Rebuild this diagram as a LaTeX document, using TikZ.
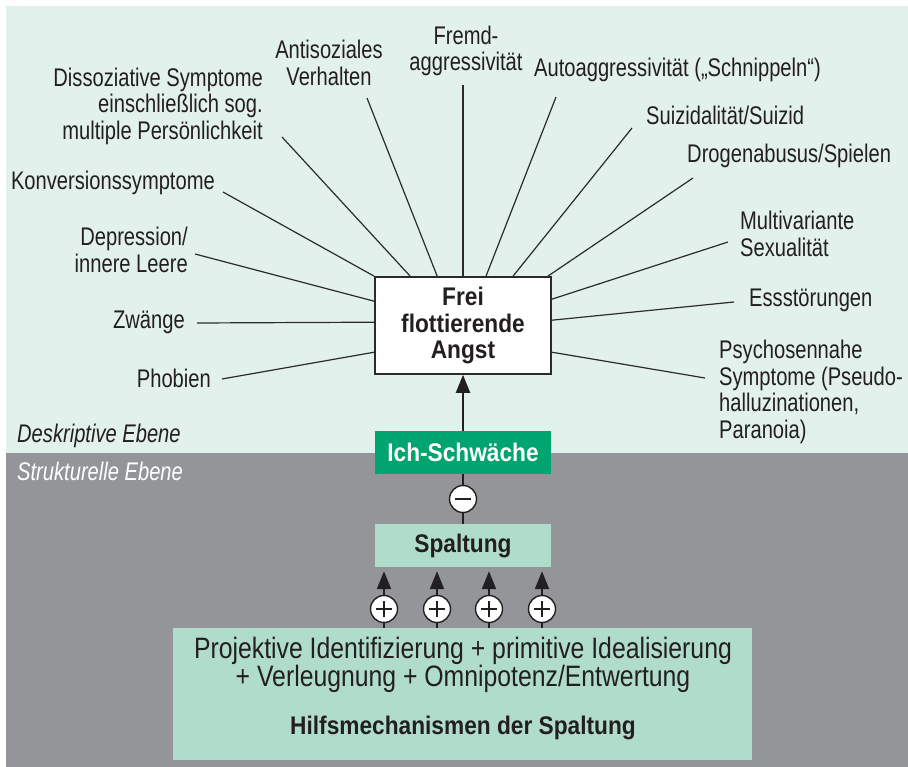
\documentclass[tikz,border=0pt]{standalone}
\usepackage{fontspec}
\setmainfont{Liberation Sans}[FakeStretch=0.79, BoldFeatures={FakeStretch=0.89}, ItalicFeatures={FakeStretch=0.79}]
\newfontfamily\widefont{Liberation Sans}[FakeStretch=0.84]
\usetikzlibrary{arrows.meta,calc}
\definecolor{mintbg}{HTML}{E2F1EC}
\definecolor{graybg}{HTML}{939598}
\definecolor{ichgreen}{HTML}{00A46E}
\definecolor{boxmint}{HTML}{B0DCCB}
\definecolor{ink}{HTML}{231F20}
\definecolor{linecol}{HTML}{2B2B2B}
\tikzset{
  lbl/.style={inner sep=0pt, text=ink, font=\fontsize{25.5}{26.5}\selectfont},
  ray/.style={draw=linecol, line width=1.2pt},
  mainbox/.style={draw=linecol, line width=1.6pt, fill=white, minimum width=176pt, minimum height=97pt, inner sep=0pt, align=center, text=ink, font=\fontsize{25.5}{26.5}\selectfont\bfseries},
  midbox/.style={minimum width=176pt, minimum height=43pt, inner sep=0pt, font=\fontsize{25.5}{26.5}\selectfont\bfseries},
  sign/.style={circle, draw=ink, line width=1.4pt, fill=white, minimum size=27pt, inner sep=0pt},
  minussign/.style={sign, path picture={\draw[ink, line width=2pt] ([xshift=-8pt]path picture bounding box.center) -- ([xshift=8pt]path picture bounding box.center);}},
  plussign/.style={sign, path picture={\draw[ink, line width=2pt] ([xshift=-8pt]path picture bounding box.center) -- ([xshift=8pt]path picture bounding box.center) ([yshift=-8pt]path picture bounding box.center) -- ([yshift=8pt]path picture bounding box.center);}},
  uparrow/.style={draw=ink, line width=2pt, -{Triangle[length=18pt,width=14pt]}},
}
\begin{document}
\begin{tikzpicture}[x=1pt,y=-1pt]
\useasboundingbox (0,0) rectangle (908,767);
\fill[white] (0,0) rectangle (908,767);
\fill[mintbg] (6,6) rectangle (908,453);
\fill[graybg] (6,453) rectangle (908,767);

% level labels
\node[lbl, anchor=west, font=\fontsize{25.5}{26.5}\selectfont\itshape] (desk) at (17,436) {Deskriptive Ebene};
\node[lbl, anchor=west, text=white, font=\fontsize{25.5}{26.5}\selectfont\itshape] (strukt) at (17,471) {Strukturelle Ebene};

% central box
\node[mainbox] (angst) at (463,325.5) {Frei\\flottierende\\Angst};

% labels
\node[lbl, align=center] (fremd) at (466,51) {Fremd-\\aggressivität};
\node[lbl, align=center] (anti) at (329,63) {Antisoziales\\Verhalten};
\node[lbl, align=right, anchor=east] (diss) at (263,106) {Dissoziative Symptome\\einschließlich sog.\\multiple Persönlichkeit};
\node[lbl, anchor=east] (konv) at (215,183) {Konversionssymptome};
\node[lbl, align=right, anchor=east] (dep) at (188,250) {Depression/\\innere Leere};
\node[lbl, anchor=east] (zw) at (185,322) {Zwänge};
\node[lbl, anchor=east] (phob) at (211,378) {Phobien};
\node[lbl, anchor=west] (auto) at (534,70) {Autoaggressivität („Schnippeln“)};
\node[lbl, anchor=west] (suiz) at (646,115) {Suizidalität/Suizid};
\node[lbl, anchor=west] (drog) at (687,156) {Drogenabusus/Spielen};
\node[lbl, align=left, anchor=west] (multi) at (740,234) {Multivariante\\Sexualität};
\node[lbl, anchor=west] (ess) at (749,300) {Essstörungen};
\node[lbl, align=left, anchor=west] (psy) at (719,392) {Psychosennahe\\Symptome (Pseudo-\\halluzinationen,\\Paranoia)};

% free ends of rays
\coordinate (sPhob) at (222,379);
\coordinate (sZw) at (197,323);
\coordinate (sDep) at (195,254);
\coordinate (sKonv) at (223,192);
\coordinate (sDiss) at (282,137);
\coordinate (sAnti) at (367,98);
\coordinate (sFremd) at (463,85);
\coordinate (sAuto) at (556,97);
\coordinate (sSuiz) at (632,128);
\coordinate (sDrog) at (693,178);
\coordinate (sMulti) at (728,242);
\coordinate (sEss) at (734,302);
\coordinate (sPsy) at (705,378);

\draw[ray] (sPhob) -- ($(angst.north west)+(0,76)$);
\draw[ray] (sZw) -- ($(angst.north west)+(0,46)$);
\draw[ray] (sDep) -- ($(angst.north west)+(0,25)$);
\draw[ray] (sKonv) -- (angst.north west);
\draw[ray] (sDiss) -- ($(angst.north west)+(36,0)$);
\draw[ray] (sAnti) -- ($(angst.north west)+(63,0)$);
\draw[ray] (sFremd) -- (angst.north);
\draw[ray] (sAuto) -- ($(angst.north)+(23,0)$);
\draw[ray] (sSuiz) -- ($(angst.north)+(50,0)$);
\draw[ray] (sDrog) -- ($(angst.north east)+(-4,0)$);
\draw[ray] (sMulti) -- ($(angst.north east)+(0,23)$);
\draw[ray] (sEss) -- ($(angst.north east)+(0,44)$);
\draw[ray] (sPsy) -- ($(angst.north east)+(0,76)$);

% structural part
\node[midbox, fill=ichgreen, text=white] (ich) at (463,452.5) {Ich-Schwäche};
\node[midbox, fill=boxmint, text=ink] (spalt) at (463,545.5) {Spaltung};
\draw[uparrow] (ich.north) -- (angst.south);
\draw[draw=ink, line width=2pt] (ich.south) -- (spalt.north);
\node[minussign] (minus) at (463,499) {};

\node[fill=boxmint, minimum width=579pt, minimum height=132pt, inner sep=0pt] (hilf) at (462.5,694) {};
\node[inner sep=0pt, align=center, text=ink, font=\widefont\fontsize{29.5}{27.5}\selectfont] (hilftext) at (463,665) {Projektive Identifizierung + primitive Idealisierung\\+ Verleugnung + Omnipotenz/Entwertung};
\node[inner sep=0pt, text=ink, font=\fontsize{25.5}{26.5}\selectfont\bfseries] (hilftitle) at (463,728) {Hilfsmechanismen der Spaltung};

\foreach \i/\x in {1/384,2/437,3/489,4/542}{
  \coordinate (pc\i) at (\x,609);
  \draw[uparrow, shorten >=4pt] (pc\i |- hilf.north) -- (pc\i |- spalt.south);
  \node[plussign] (plus\i) at (pc\i) {};
}
\end{tikzpicture}
\end{document}
